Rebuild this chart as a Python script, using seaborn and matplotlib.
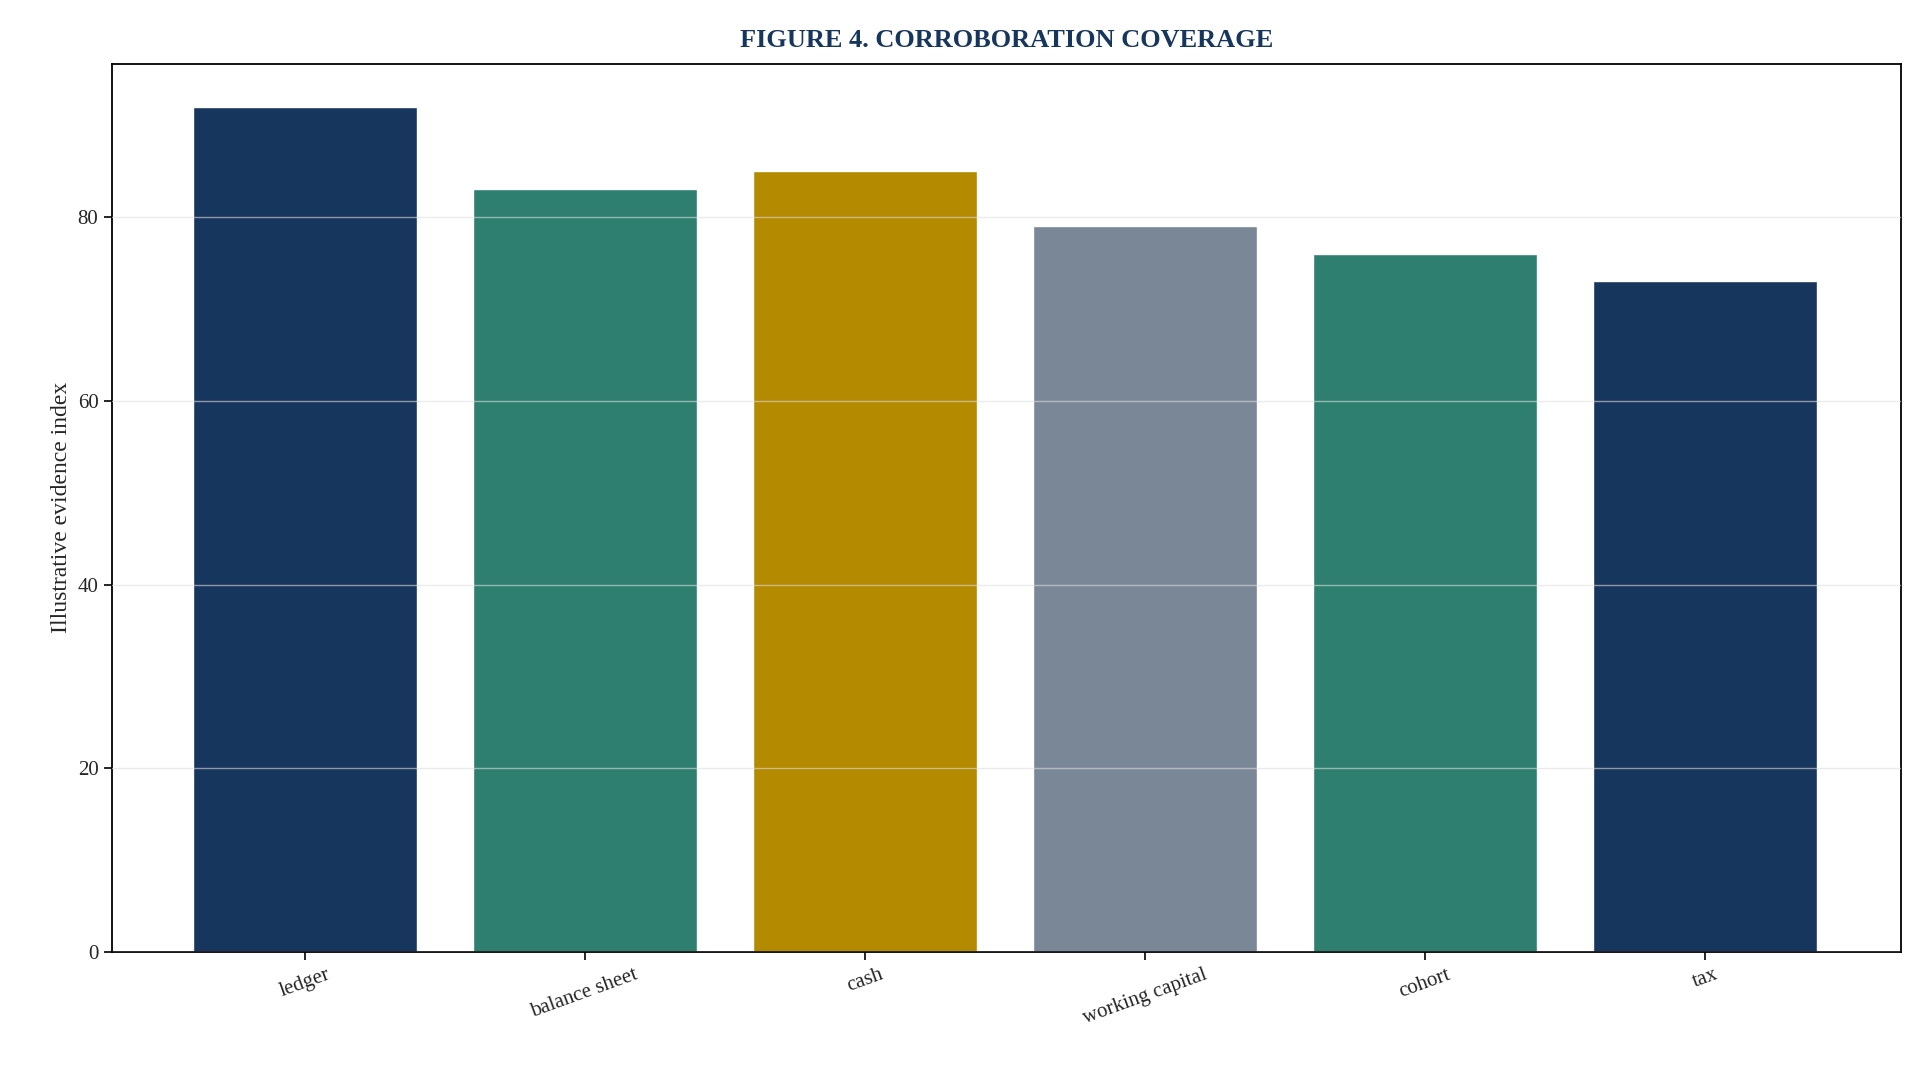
import pandas as pd
import matplotlib.pyplot as plt
import seaborn as sns

categories = ["ledger", "balance sheet", "cash", "working capital", "cohort", "tax"]
values = [92, 83, 85, 79, 76, 73]
colors = ["#17365D", "#2E7F6F", "#B38A00", "#7A8797", "#2E7F6F", "#17365D"]

df = pd.DataFrame({"category": categories, "value": values})

sns.set_theme(style="ticks")
plt.rcParams["font.family"] = ["Liberation Serif", "DejaVu Serif"]

fig = plt.figure(figsize=(19.24, 10.77), dpi=100)
ax = fig.add_axes([0.058, 0.116, 0.930, 0.825])

sns.barplot(data=df, x="category", y="value", hue="category", palette=colors,
            width=0.8, saturation=1, legend=False, ax=ax)

ax.set_xlim(-0.69, 5.70)
ax.set_ylim(0, 96.7)
ax.set_yticks([0, 20, 40, 60, 80])
ax.yaxis.grid(True, color="#dddddd", linewidth=1, alpha=0.6)
ax.set_axisbelow(False)
for s in ax.spines.values():
    s.set_color("black")
    s.set_linewidth(1.3)
ax.tick_params(axis="both", labelsize=15, length=6, width=1.2, color="black")
plt.setp(ax.get_xticklabels(), rotation=20)
ax.set_xlabel("")
ax.set_ylabel("Illustrative evidence index", fontsize=17)
ax.set_title("FIGURE 4. CORROBORATION COVERAGE", fontsize=19, fontweight="bold",
             color="#17365D", pad=12)

fig.savefig("out.png", dpi=100)
